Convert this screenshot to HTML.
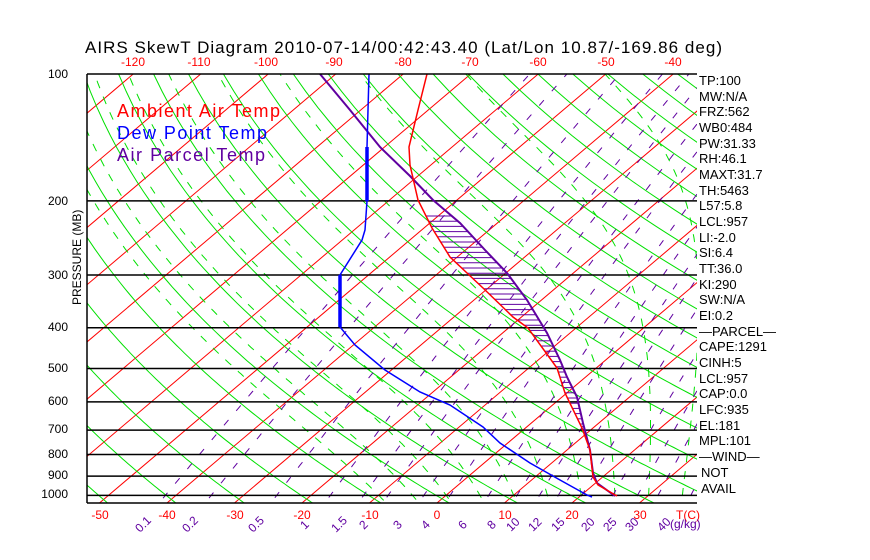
<!DOCTYPE html>
<html><head><meta charset="utf-8"><style>
html,body{margin:0;padding:0;background:#fff;}
svg{display:block;font-family:"Liberation Sans",sans-serif;}
</style></head><body>
<svg id="s" width="870" height="560" viewBox="0 0 870 560" xmlns="http://www.w3.org/2000/svg">
<rect width="870" height="560" fill="#fff"/>
<defs><clipPath id="c"><rect x="87" y="74" width="610" height="429"/></clipPath></defs>
<g id="grid" clip-path="url(#c)"></g>
<g id="data"></g>
<g fill="none" stroke="#000" stroke-width="1.5">
<line x1="87" y1="74" x2="697" y2="74"/><line x1="87" y1="74" x2="87" y2="503"/><line x1="87" y1="503" x2="697" y2="503"/>
</g>
<text x="85" y="53" font-size="17" textLength="637" lengthAdjust="spacing">AIRS SkewT Diagram 2010-07-14/00:42:43.40 (Lat/Lon 10.87/-169.86 deg)</text>
<g fill="#f00" font-size="12" text-anchor="middle">
<text x="133" y="66">-120</text><text x="199" y="66">-110</text><text x="266" y="66">-100</text><text x="334" y="66">-90</text><text x="403" y="66">-80</text><text x="470" y="66">-70</text><text x="538" y="66">-60</text><text x="606" y="66">-50</text><text x="673" y="66">-40</text>
<text x="100" y="519">-50</text><text x="167" y="519">-40</text><text x="235" y="519">-30</text><text x="302" y="519">-20</text><text x="370" y="519">-10</text><text x="437" y="519">0</text><text x="505" y="519">10</text><text x="572" y="519">20</text><text x="640" y="519">30</text>
</g>
<text x="676" y="519" fill="#f00" font-size="12">T(C)</text>
<g fill="#000" font-size="12" text-anchor="end">
<text x="68" y="78">100</text><text x="68" y="205">200</text><text x="68" y="279">300</text><text x="68" y="331">400</text><text x="68" y="372">500</text><text x="68" y="405">600</text><text x="68" y="433">700</text><text x="68" y="458">800</text><text x="68" y="479">900</text><text x="68" y="498">1000</text>
</g>
<text transform="translate(81,305) rotate(-90)" font-size="12" fill="#000">PRESSURE (MB)</text>
<g font-size="18">
<text x="117" y="117" fill="#f00" textLength="163" lengthAdjust="spacing">Ambient Air Temp</text>
<text x="117" y="139" fill="#00f" textLength="150" lengthAdjust="spacing">Dew Point Temp</text>
<text x="117" y="161" fill="#6000a0" textLength="148" lengthAdjust="spacing">Air Parcel Temp</text>
</g>
<g fill="#6000a0" font-size="12">
<text transform="translate(140,533) rotate(-45)">0.1</text>
<text transform="translate(187,533) rotate(-45)">0.2</text>
<text transform="translate(253,533) rotate(-45)">0.5</text>
<text transform="translate(305,530) rotate(-45)">1</text>
<text transform="translate(336,533) rotate(-45)">1.5</text>
<text transform="translate(364,530) rotate(-45)">2</text>
<text transform="translate(398,530) rotate(-45)">3</text>
<text transform="translate(426,530) rotate(-45)">4</text>
<text transform="translate(463,530) rotate(-45)">6</text>
<text transform="translate(492,530) rotate(-45)">8</text>
<text transform="translate(511,532) rotate(-45)">10</text>
<text transform="translate(533,532) rotate(-45)">12</text>
<text transform="translate(556,532) rotate(-45)">15</text>
<text transform="translate(586,532) rotate(-45)">20</text>
<text transform="translate(608,532) rotate(-45)">25</text>
<text transform="translate(630,532) rotate(-45)">30</text>
<text transform="translate(662,532) rotate(-45)">40</text>
<text x="670" y="528">(g/kg)</text>
</g>
<g fill="#000" font-size="13">
<text x="699" y="85">TP:100</text><text x="699" y="101">MW:N/A</text><text x="699" y="116">FRZ:562</text><text x="699" y="132">WB0:484</text><text x="699" y="148">PW:31.33</text><text x="699" y="163">RH:46.1</text><text x="699" y="179">MAXT:31.7</text><text x="699" y="195">TH:5463</text><text x="699" y="210">L57:5.8</text><text x="699" y="226">LCL:957</text><text x="699" y="242">LI:-2.0</text><text x="699" y="257">SI:6.4</text><text x="699" y="273">TT:36.0</text><text x="699" y="289">KI:290</text><text x="699" y="304">SW:N/A</text><text x="699" y="320">EI:0.2</text><text x="699" y="336">—PARCEL—</text><text x="699" y="351">CAPE:1291</text><text x="699" y="367">CINH:5</text><text x="699" y="383">LCL:957</text><text x="699" y="398">CAP:0.0</text><text x="699" y="414">LFC:935</text><text x="699" y="430">EL:181</text><text x="699" y="445">MPL:101</text><text x="699" y="461">—WIND—</text><text x="701" y="477">NOT</text><text x="701" y="493">AVAIL</text>
</g>
</svg>
<script>
(function(){
var NS="http://www.w3.org/2000/svg";
var grid=document.getElementById("grid"),data=document.getElementById("data");
function Y(p){return 74+183*Math.log(p/100);}
function X(T,p){return 437+6.75*T+(503-Y(p))*1.18;}
function el(par,tag,a){var e=document.createElementNS(NS,tag);for(var k in a)e.setAttribute(k,a[k]);par.appendChild(e);return e;}
function poly(par,pts,st){var d=pts.map(function(q){return q[0].toFixed(1)+","+q[1].toFixed(1);}).join(" ");var a={points:d,fill:"none"};for(var k in st)a[k]=st[k];return el(par,"polyline",a);}
for(var T=-160;T<=50;T+=10){poly(grid,[[X(T,1100),Y(1100)],[X(T,90),Y(90)]],{stroke:"#f00","stroke-width":1});}
for(var th=171.7;th<=560;th+=10){var pts=[];for(var p=1100;p>=90;p-=10){var t=th*Math.pow(p/1000,0.286)-273.15;pts.push([X(t,p),Y(p)]);}poly(grid,pts,{stroke:"#00e000","stroke-width":1});}
function es(Tc){return 6.112*Math.exp(17.67*Tc/(Tc+243.5));}
function step(T,p,dp){var Tc=T-273.15,e=es(Tc),rs=0.622*e/(p-e);var num=287*T+2.5e6*rs,den=1004+2.5e6*2.5e6*rs*0.622/(287*T*T);return T+dp*num/(den*p);}
for(var T0=-10;T0<=40;T0+=5){var T=T0+273.15,pts=[];
 var Tb=T;for(var q=1000;q<1100;q+=5){Tb=step(Tb,q,5);}
 T=Tb;for(var p=1100;p>=100;p-=5){pts.push([X(T-273.15,p),Y(p)]);T=step(T,p,-5);}
 poly(grid,pts,{stroke:"#00e000","stroke-width":1,"stroke-dasharray":"8,9"});}
var ws=[0.1,0.2,0.5,1,1.5,2,3,4,6,8,10,12,15,20,25,30,40];
ws.forEach(function(w){var pts=[];w/=1000;for(var p=1100;p>=100;p-=10){var e=w*p/(0.622+w),L=Math.log(e/6.112),Tc=243.5*L/(17.67-L);pts.push([X(Tc,p),Y(p)]);}
 poly(grid,pts,{stroke:"#6000a0","stroke-width":1,"stroke-dasharray":"7,12"});});
for(var p=200;p<=1000;p+=100){el(grid,"line",{x1:87,x2:697,y1:Y(p),y2:Y(p),stroke:"#000","stroke-width":1.5});}
var red=[[427,74],[418,110],[409,147],[410,165],[418,200],[432,228],[450,257],[483,288],[513,317],[528,328],[557,368],[565,393],[582,428],[590,450],[593,477],[598,485],[617,496]];
var par=[[320,74],[350,110],[380,147],[410,176],[433,200],[460,223],[485,250],[507,273],[527,300],[547,333],[560,360],[567,377],[577,397],[583,423],[590,450],[593,473],[597,483],[615,496]];
function interp(a,y){for(var i=0;i<a.length-1;i++){if(y>=a[i][1]&&y<=a[i+1][1]){var f=(y-a[i][1])/(a[i+1][1]-a[i][1]);return a[i][0]+f*(a[i+1][0]-a[i][0]);}}return null;}
for(var y=216;y<=490;y+=5.2){var a=interp(red,y),b=interp(par,y);if(a!=null&&b!=null&&b>a)el(data,"line",{x1:a,x2:b,y1:y,y2:y,stroke:"#6000a0","stroke-width":1});}
poly(data,par,{stroke:"#6000a0","stroke-width":2});
poly(data,red,{stroke:"#f00","stroke-width":1.5});
var dew=[[369,74],[368,110],[367,147],[367,201],[365,230],[362,240],[340,275],[340,327],[355,345],[385,370],[420,392],[450,405],[483,427],[500,443],[530,463],[560,480],[587,495],[592,497]];
poly(data,dew,{stroke:"#00f","stroke-width":1.5});
el(data,"line",{x1:367,x2:367,y1:147,y2:201,stroke:"#00f","stroke-width":3.5});
el(data,"line",{x1:340,x2:340,y1:275,y2:327,stroke:"#00f","stroke-width":3.5});
})();
</script>
</body></html>
